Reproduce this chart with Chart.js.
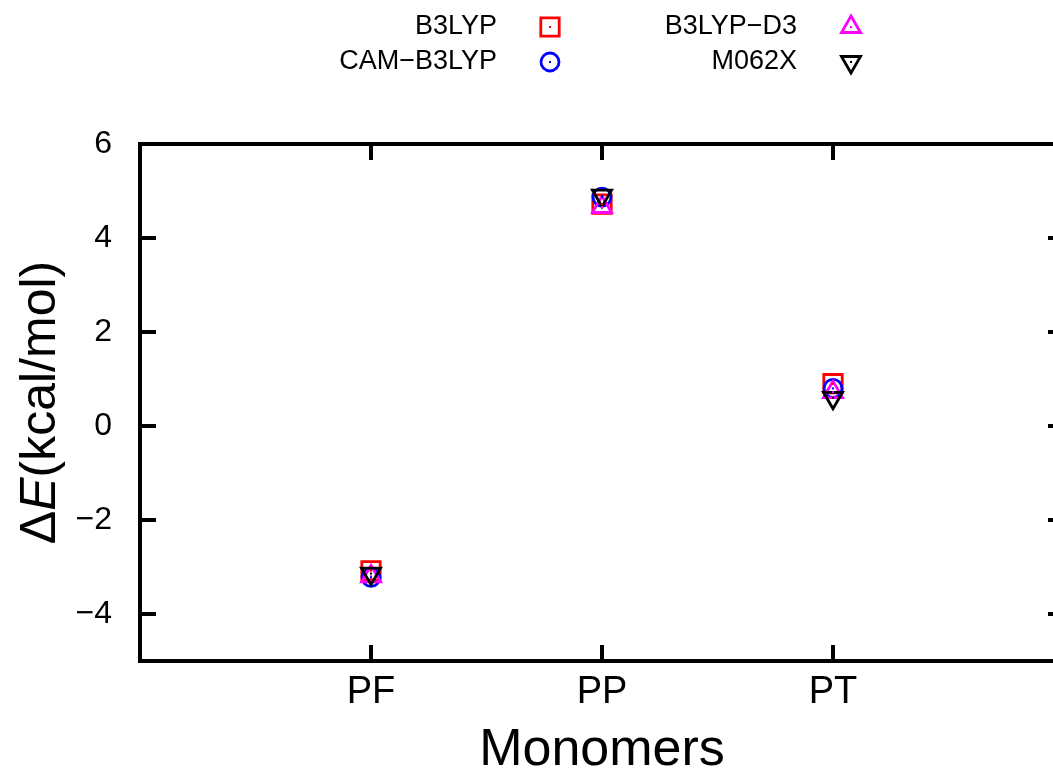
<!DOCTYPE html>
<html lang="en">
<head>
<meta charset="UTF-8">
<title>Monomer energies</title>
<script src="https://cdn.jsdelivr.net/npm/chart.js"></script>
<style>
  html, body { margin: 0; padding: 0; overflow: hidden; background: #fff; }
  #wrap { width: 1090px; height: 775px; }
</style>
</head>
<body>
<div id="wrap"><canvas id="energyChart"></canvas></div>
<script>
// ΔE per monomer (kcal/mol) for each functional
const monomers = ['PF', 'PP', 'PT'];
const b3lyp    = [-3.08, 4.72, 0.90];
const camB3lyp = [-3.22, 4.87, 0.80];
const b3lypD3  = [-3.20, 4.66, 0.72];
const m062x    = [-3.14, 4.90, 0.60];
const yTicks   = [-4, -2, 0, 2, 4, 6];

const FONT = "'Liberation Sans', Arial, Helvetica, sans-serif";
Chart.defaults.font.family = FONT;
Chart.defaults.color = '#000';

function points(values) {
  return values.map((v, i) => ({ x: i + 1, y: v }));
}

function series(label, values, color, style, radius, rotation, order) {
  return {
    label: label,
    data: points(values),
    borderColor: color,
    backgroundColor: 'rgba(0,0,0,0)',
    pointStyle: style,
    pointRadius: radius,
    pointRotation: rotation,
    pointBorderWidth: 2.8,
    showLine: false,
    order: order
  };
}

const datasets = [
  series('B3LYP', b3lyp, '#ff0000', 'rect', 13, 0, 3),
  series('CAM\u2212B3LYP', camB3lyp, '#0000ff', 'circle', 9, 0, 2),
  series('B3LYP\u2212D3', b3lypD3, '#ff00ff', 'triangle', 11, 0, 1),
  series('M062X', m062x, '#000000', 'triangle', 11, 180, 0)
];

function marker(ctx, ds, x, y) {
  ctx.save();
  ctx.strokeStyle = ds.borderColor;
  ctx.fillStyle = 'rgba(0,0,0,0)';
  ctx.lineWidth = ds.pointBorderWidth;
  Chart.helpers.drawPoint(ctx, {
    pointStyle: ds.pointStyle,
    rotation: ds.pointRotation,
    radius: ds.pointRadius,
    borderWidth: ds.pointBorderWidth
  }, x, y);
  ctx.fillStyle = ds.borderColor;
  ctx.fillRect(x - 1, y - 1, 2, 2);
  ctx.restore();
}

// small dot in the middle of every marker
const centerDots = {
  id: 'centerDots',
  afterDatasetsDraw(chart) {
    const ctx = chart.ctx;
    [3, 2, 1, 0].forEach(i => {
      const ds = chart.data.datasets[i];
      chart.getDatasetMeta(i).data.forEach(pt => {
        ctx.fillStyle = ds.borderColor;
        ctx.fillRect(pt.x - 1, pt.y - 1, 2, 2);
      });
    });
  }
};

// closed box with inward ticks on all four sides
const frame = {
  id: 'frame',
  afterDraw(chart) {
    const { ctx, chartArea } = chart;
    const { left, right, top, bottom } = chartArea;
    const tick = 16;
    ctx.save();
    ctx.strokeStyle = '#000';
    ctx.lineWidth = 4;
    ctx.strokeRect(left, top, right - left, bottom - top);
    ctx.beginPath();
    yTicks.forEach(v => {
      const p = chart.scales.y.getPixelForValue(v);
      ctx.moveTo(left, p); ctx.lineTo(left + tick, p);
      ctx.moveTo(right, p); ctx.lineTo(right - tick, p);
    });
    monomers.forEach((m, i) => {
      const p = chart.scales.x.getPixelForValue(i + 1);
      ctx.moveTo(p, bottom); ctx.lineTo(p, bottom - tick);
      ctx.moveTo(p, top); ctx.lineTo(p, top + tick);
    });
    ctx.stroke();
    ctx.restore();
  }
};

// y title with an italic E
const yTitle = {
  id: 'yTitle',
  afterDraw(chart) {
    const ctx = chart.ctx;
    const { top, bottom } = chart.chartArea;
    const parts = [
      { t: '\u0394', f: `50px ${FONT}` },
      { t: 'E', f: `italic 50px ${FONT}` },
      { t: '(kcal/mol)', f: `50px ${FONT}` }
    ];
    ctx.save();
    ctx.translate(41, (top + bottom) / 2);
    ctx.rotate(-Math.PI / 2);
    ctx.textBaseline = 'middle';
    ctx.fillStyle = '#000';
    let total = 0;
    parts.forEach(p => { ctx.font = p.f; p.w = ctx.measureText(p.t).width; total += p.w; });
    let x = -total / 2;
    parts.forEach(p => { ctx.font = p.f; ctx.fillText(p.t, x, 0); x += p.w; });
    ctx.restore();
  }
};

// two-column key above the plot, text right-aligned before its marker
const key = {
  id: 'key',
  afterDraw(chart) {
    const ctx = chart.ctx;
    const cols = [{ text: 497, mark: 550 }, { text: 797, mark: 851 }];
    const rows = [27, 62];
    chart.data.datasets.forEach((ds, i) => {
      const col = cols[Math.floor(i / 2)];
      const y = rows[i % 2];
      ctx.save();
      ctx.font = `27px ${FONT}`;
      ctx.fillStyle = '#000';
      ctx.textAlign = 'right';
      ctx.textBaseline = 'middle';
      ctx.fillText(ds.label, col.text, y);
      ctx.restore();
      marker(ctx, ds, col.mark, y);
    });
  }
};

new Chart(document.getElementById('energyChart'), {
  type: 'scatter',
  data: { datasets: datasets },
  options: {
    responsive: true,
    maintainAspectRatio: false,
    animation: false,
    layout: { padding: { top: 144, right: 26, left: 0, bottom: 0 } },
    plugins: { legend: { display: false }, tooltip: { enabled: false } },
    scales: {
      x: {
        type: 'linear',
        min: 0,
        max: 4,
        grid: { display: false },
        border: { display: false },
        afterBuildTicks: s => { s.ticks = monomers.map((m, i) => ({ value: i + 1 })); },
        afterFit: s => { s.height = 114; },
        ticks: {
          autoSkip: false,
          maxRotation: 0,
          padding: 1,
          font: { size: 38 },
          callback: v => monomers[v - 1]
        },
        title: {
          display: true,
          text: 'Monomers',
          font: { size: 52, lineHeight: 1 },
          padding: { top: 0, bottom: -2 }
        }
      },
      y: {
        min: -5,
        max: 6,
        grid: { display: false },
        border: { display: false },
        afterBuildTicks: s => { s.ticks = yTicks.map(v => ({ value: v })); },
        afterFit: s => { s.width = 140; },
        ticks: {
          padding: 20,
          font: { size: 32 },
          callback: v => (v < 0 ? '\u2212' + Math.abs(v) : String(v))
        }
      }
    }
  },
  plugins: [centerDots, frame, yTitle, key]
});
</script>
</body>
</html>
